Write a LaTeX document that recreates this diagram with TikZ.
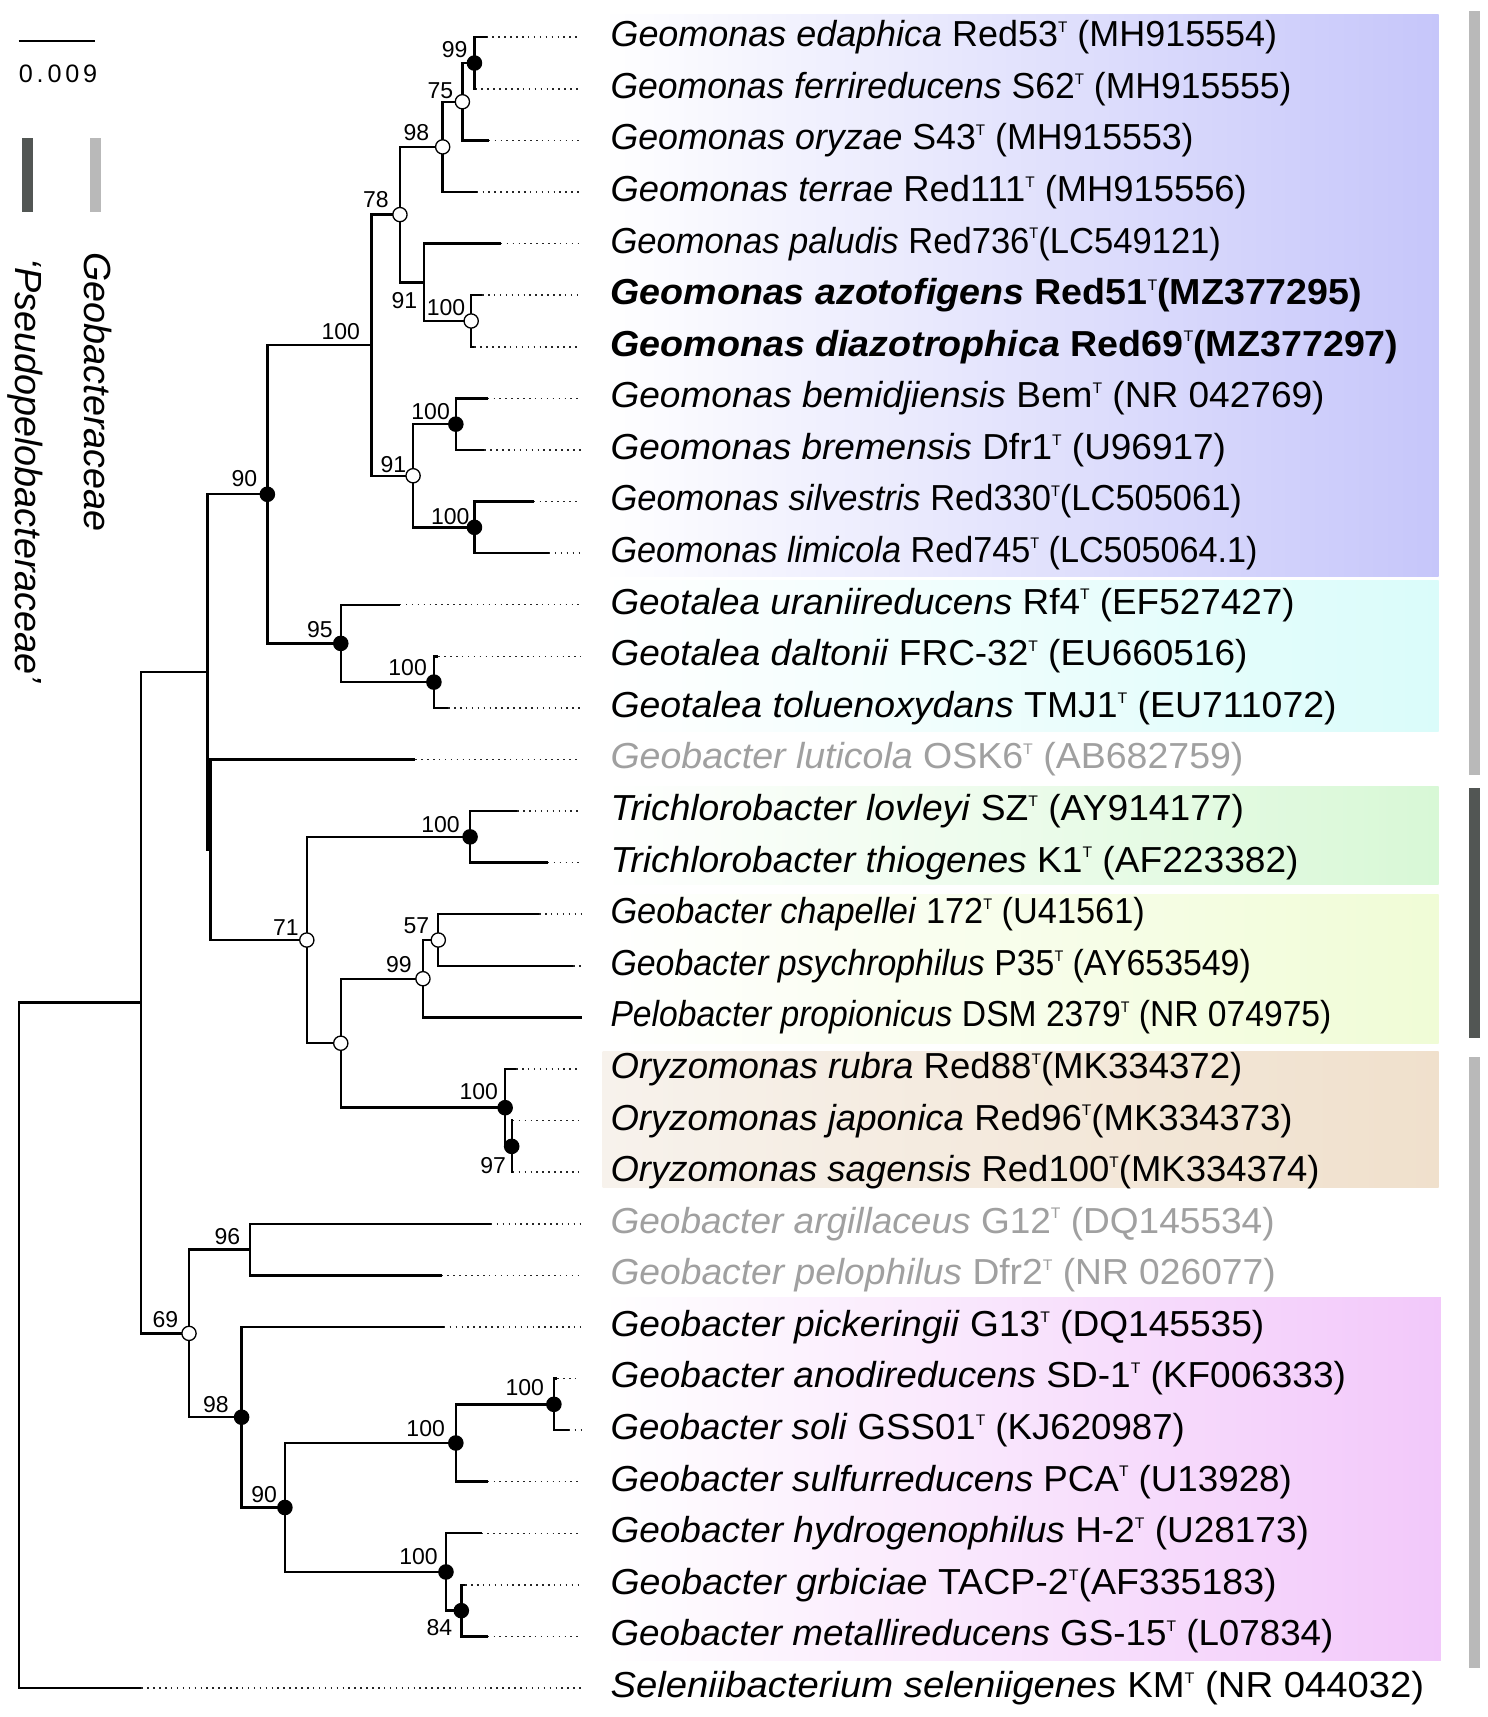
\documentclass[tikz,border=0pt]{standalone}
\usepackage{fontspec}
\setmainfont{Liberation Sans}
\usetikzlibrary{calc}
\definecolor{cGeomonas}{RGB}{198,198,250}
\definecolor{cGeotalea}{RGB}{218,252,250}
\definecolor{cTrichlo}{RGB}{216,248,214}
\definecolor{cYellow}{RGB}{240,252,214}
\definecolor{cOryzoL}{RGB}{247,242,236}
\definecolor{cOryzoR}{RGB}{240,224,204}
\definecolor{cPink}{RGB}{242,200,250}
\definecolor{txtgray}{RGB}{160,160,160}
\definecolor{barlight}{RGB}{185,185,185}
\definecolor{bardark}{RGB}{82,86,84}
\newcommand{\tT}{\raisebox{13pt}{\fontsize{14}{14}\selectfont\upshape\mdseries T}}
\newcommand{\sx}[2]{\scalebox{#1}[1]{#2}}
\begin{document}
\begin{tikzpicture}[x=1pt,y=-1pt,
  taxon/.style={anchor=base west, inner sep=0pt, font=\fontsize{33}{39}\selectfont},
  graytaxon/.style={taxon, text=txtgray},
  boldtaxon/.style={taxon, font=\fontsize{33}{39}\selectfont\bfseries},
  bs/.style={inner sep=0pt, font=\fontsize{21}{24}\selectfont},
  branch/.style={line width=2.2pt},
  dotline/.style={line width=1.4pt, dash pattern=on 1.4pt off 4pt, black!85},
  fnode/.style={circle, fill=black, draw=black, inner sep=0pt, minimum size=13pt, line width=1.2pt},
  onode/.style={circle, fill=white, draw=black, inner sep=0pt, minimum size=13pt, line width=1.2pt},
  legendtxt/.style={rotate=-90, anchor=base west, inner sep=0pt, font=\fontsize{34.5}{40}\selectfont\itshape}
]
\useasboundingbox (0,0) rectangle (1358,1567);
\fill[white] (0,0) rectangle (1358,1567);

% coloured bands
\shade[left color=white, right color=cGeomonas] (550,13) rectangle (1313,526);
\shade[left color=white, right color=cGeotalea] (550,530) rectangle (1313,667.5);
\shade[left color=white, right color=cTrichlo] (550,718) rectangle (1313,807);
\shade[left color=white, right color=cYellow] (550,816) rectangle (1313,952.5);
\shade[left color=cOryzoL, right color=cOryzoR] (550,960) rectangle (1313,1084);
\shade[left color=white, right color=cPink] (550,1184) rectangle (1315,1515);

% side bars
\fill[barlight] (1341,10) rectangle (1351,707);
\fill[bardark] (1341,719) rectangle (1351,947);
\fill[barlight] (1341,965) rectangle (1351,1522);

% legend
\fill[bardark] (20.5,126) rectangle (30,193.5);
\fill[barlight] (82,126) rectangle (92,193.5);
\node[legendtxt] (lgeo) at (77,230) {Geobacteraceae};
\node[legendtxt] (lpseudo) at (14.5,236) {‘Pseudopelobacteraceae’};

% scale bar
\coordinate (sb1) at (17,37.5);
\coordinate (sb2) at (87,37.5);
\draw[line width=2pt] (sb1) -- (sb2);
\node[inner sep=0pt, font=\fontsize{23}{26}\selectfont] (sblabel) at (53,67) {0\kern3.5pt.\kern3.5pt0\kern3.5pt0\kern3.5pt9};

% internal nodes
\coordinate (N99) at (433,57.54);
\coordinate (N75) at (422,92.85);
\coordinate (N98) at (404,134.05);
\coordinate (N100a) at (430,292.94);
\coordinate (N91a) at (387,257.63);
\coordinate (N78) at (365,195.84);
\coordinate (N100b) at (416,387.1);
\coordinate (N100c) at (433,481.26);
\coordinate (N91b) at (377,434.18);
\coordinate (N100d) at (339,315.01);
\coordinate (N100e) at (396,622.5);
\coordinate (N95) at (311,587.19);
\coordinate (N90) at (244,451.1);
\coordinate (N100f) at (429,763.74);
\coordinate (N57) at (400,857.9);
\coordinate (N99b) at (386,893.21);
\coordinate (N97) at (467,1046.22);
\coordinate (N100g) at (461,1010.91);
\coordinate (NC) at (311,952.06);
\coordinate (N71) at (280,857.9);
\coordinate (B) at (192,775.51);
\coordinate (A) at (189.5,613.3);
\coordinate (N96) at (228,1140.38);
\coordinate (N100h) at (505.5,1281.62);
\coordinate (N100i) at (416,1316.93);
\coordinate (N84) at (421,1469.94);
\coordinate (N100j) at (407,1434.63);
\coordinate (N90c) at (260,1375.78);
\coordinate (N98c) at (220.5,1293.39);
\coordinate (N69) at (172.5,1216.88);
\coordinate (N128) at (128.5,915.09);
\coordinate (R) at (17.5,1227.8);

% leaf tips, dotted ends, text anchors
\foreach \i/\tx/\ty in {0/444/34, 1/434/81.08, 2/446/128.16, 3/435/175.24, 4/457/222.32,
  5/440/269.4, 6/433/316.48, 7/445/363.56, 8/442/410.64, 9/487/457.72, 10/501/504.8,
  11/365/551.88, 12/400/598.96, 13/409/646.04, 14/379/693.12, 15/472/740.2, 16/500/787.28,
  17/492/834.36, 18/523/881.44, 19/531/928.52, 20/471/975.6, 21/468/1022.68, 22/468/1069.76,
  23/448/1116.84, 24/403/1163.92, 25/405/1211, 26/508.5/1258.08, 27/519/1305.16,
  28/445/1352.24, 29/439.5/1399.32, 30/424.5/1446.4, 31/445/1493.48, 32/129/1540.56}{
  \coordinate (L\i) at (\tx,\ty);
  \coordinate (E\i) at (530,\ty);
  \coordinate (T\i) at (557,\ty+8.6);
}
\foreach \i in {0,...,18,20,21,...,32}{\draw[dotline] (L\i) -- (E\i);}

% branches
\foreach \p/\c in {N99/L0, N99/L1, N75/N99, N75/L2, N98/N75, N98/L3,
  N100a/L5, N100a/L6, N91a/L4, N91a/N100a, N78/N98, N78/N91a,
  N100b/L7, N100b/L8, N100c/L9, N100c/L10, N91b/N100b, N91b/N100c,
  N100d/N78, N100d/N91b, N100e/L12, N100e/L13, N95/L11, N95/N100e,
  N90/N100d, N90/N95, N100f/L15, N100f/L16, N57/L17, N57/L18,
  N99b/N57, N99b/L19, N97/L21, N97/L22, N100g/L20, N100g/N97,
  NC/N99b, NC/N100g, N71/N100f, N71/NC, B/L14, B/N71, A/N90, A/B,
  N96/L23, N96/L24, N100h/L26, N100h/L27, N100i/N100h, N100i/L28,
  N84/L30, N84/L31, N100j/L29, N100j/N84, N90c/N100i, N90c/N100j,
  N98c/L25, N98c/N90c, N69/N96, N69/N98c, N128/A, N128/N69, R/N128, R/L32}{
  \draw[branch] (\p) |- (\c);
}

% support markers
\foreach \n in {N99, N100b, N100c, N90, N95, N100e, N100f, N100g, N97, N98c, N90c, N100h, N100i, N100j, N84}{
  \node[fnode] (m\n) at (\n) {};
}
\foreach \n in {N75, N98, N78, N100a, N91b, N71, NC, N99b, N57, N69}{
  \node[onode] (m\n) at (\n) {};
}

% bootstrap values
\node[bs] (b1) at (415,45) {99};
\node[bs] (b2) at (402,83) {75};
\node[bs] (b3) at (380,121) {98};
\node[bs] (b4) at (343,182) {78};
\node[bs] (b5) at (369,274) {91};
\node[bs] (b6) at (407,281) {100};
\node[bs] (b7) at (311,303) {100};
\node[bs] (b8) at (393,376) {100};
\node[bs] (b9) at (359,424) {91};
\node[bs] (b10) at (411,471) {100};
\node[bs] (b11) at (223,437) {90};
\node[bs] (b12) at (292,574.3) {95};
\node[bs] (b13) at (372,609) {100};
\node[bs] (b14) at (402,752.3) {100};
\node[bs] (b15) at (261,846.6) {71};
\node[bs] (b16) at (380,844.7) {57};
\node[bs] (b17) at (364,880.1) {99};
\node[bs] (b18) at (437,996.3) {100};
\node[bs] (b19) at (450,1063.4) {97};
\node[bs] (b20) at (207.5,1128.6) {96};
\node[bs] (b21) at (151,1204.1) {69};
\node[bs] (b22) at (197,1282.1) {98};
\node[bs] (b23) at (241,1363.7) {90};
\node[bs] (b24) at (388.5,1303.9) {100};
\node[bs] (b25) at (479,1266.3) {100};
\node[bs] (b26) at (382,1420.4) {100};
\node[bs] (b27) at (401,1485.3) {84};

% taxon names
\node[taxon] (t0) at (T0) {\sx{0.994}{\textit{Geomonas edaphica} Red53\tT{} (MH915554)}};
\node[taxon] (t1) at (T1) {\sx{0.983}{\textit{Geomonas ferrireducens} S62\tT{} (MH915555)}};
\node[taxon] (t2) at (T2) {\sx{0.988}{\textit{Geomonas oryzae} S43\tT{} (MH915553)}};
\node[taxon] (t3) at (T3) {\sx{1.005}{\textit{Geomonas terrae} Red111\tT{} (MH915556)}};
\node[taxon] (t4) at (T4) {\sx{0.956}{\textit{Geomonas paludis} Red736\tT{}(LC549121)}};
\node[boldtaxon] (t5) at (T5) {\sx{1.040}{\textit{Geomonas azotofigens} Red51\tT{}(MZ377295)}};
\node[boldtaxon] (t6) at (T6) {\sx{1.041}{\textit{Geomonas diazotrophica} Red69\tT{}(MZ377297)}};
\node[taxon] (t7) at (T7) {\sx{1.025}{\textit{Geomonas bemidjiensis} Bem\tT{} (NR 042769)}};
\node[taxon] (t8) at (T8) {\sx{1.022}{\textit{Geomonas bremensis} Dfr1\tT{} (U96917)}};
\node[taxon] (t9) at (T9) {\sx{0.953}{\textit{Geomonas silvestris} Red330\tT{}(LC505061)}};
\node[taxon] (t10) at (T10) {\sx{0.945}{\textit{Geomonas limicola} Red745\tT{} (LC505064.1)}};
\node[taxon] (t11) at (T11) {\sx{1.020}{\textit{Geotalea uraniireducens} Rf4\tT{} (EF527427)}};
\node[taxon] (t12) at (T12) {\sx{1.022}{\textit{Geotalea daltonii} FRC-32\tT{} (EU660516)}};
\node[taxon] (t13) at (T13) {\sx{1.034}{\textit{Geotalea toluenoxydans} TMJ1\tT{} (EU711072)}};
\node[graytaxon] (t14) at (T14) {\sx{1.037}{\textit{Geobacter luticola} OSK6\tT{} (AB682759)}};
\node[taxon] (t15) at (T15) {\sx{1.029}{\textit{Trichlorobacter lovleyi} SZ\tT{} (AY914177)}};
\node[taxon] (t16) at (T16) {\sx{1.027}{\textit{Trichlorobacter thiogenes} K1\tT{} (AF223382)}};
\node[taxon] (t17) at (T17) {\sx{0.949}{\textit{Geobacter chapellei} 172\tT{} (U41561)}};
\node[taxon] (t18) at (T18) {\sx{0.936}{\textit{Geobacter psychrophilus} P35\tT{} (AY653549)}};
\node[taxon] (t19) at (T19) {\sx{0.930}{\textit{Pelobacter propionicus} DSM 2379\tT{} (NR 074975)}};
\node[taxon] (t20) at (T20) {\sx{1.012}{\textit{Oryzomonas rubra} Red88\tT{}(MK334372)}};
\node[taxon] (t21) at (T21) {\sx{1.011}{\textit{Oryzomonas japonica} Red96\tT{}(MK334373)}};
\node[taxon] (t22) at (T22) {\sx{1.009}{\textit{Oryzomonas sagensis} Red100\tT{}(MK334374)}};
\node[graytaxon] (t23) at (T23) {\sx{1.024}{\textit{Geobacter argillaceus} G12\tT{} (DQ145534)}};
\node[graytaxon] (t24) at (T24) {\sx{1.029}{\textit{Geobacter pelophilus} Dfr2\tT{} (NR 026077)}};
\node[taxon] (t25) at (T25) {\sx{1.026}{\textit{Geobacter pickeringii} G13\tT{} (DQ145535)}};
\node[taxon] (t26) at (T26) {\sx{1.023}{\textit{Geobacter anodireducens} SD-1\tT{} (KF006333)}};
\node[taxon] (t27) at (T27) {\sx{1.013}{\textit{Geobacter soli} GSS01\tT{} (KJ620987)}};
\node[taxon] (t28) at (T28) {\sx{1.016}{\textit{Geobacter sulfurreducens} PCA\tT{} (U13928)}};
\node[taxon] (t29) at (T29) {\sx{1.023}{\textit{Geobacter hydrogenophilus} H-2\tT{} (U28173)}};
\node[taxon] (t30) at (T30) {\sx{1.038}{\textit{Geobacter grbiciae} TACP-2\tT{}(AF335183)}};
\node[taxon] (t31) at (T31) {\sx{1.017}{\textit{Geobacter metallireducens} GS-15\tT{} (L07834)}};
\node[taxon] (t32) at (T32) {\sx{1.058}{\textit{Seleniibacterium seleniigenes} KM\tT{} (NR 044032)}};
\end{tikzpicture}
\end{document}
